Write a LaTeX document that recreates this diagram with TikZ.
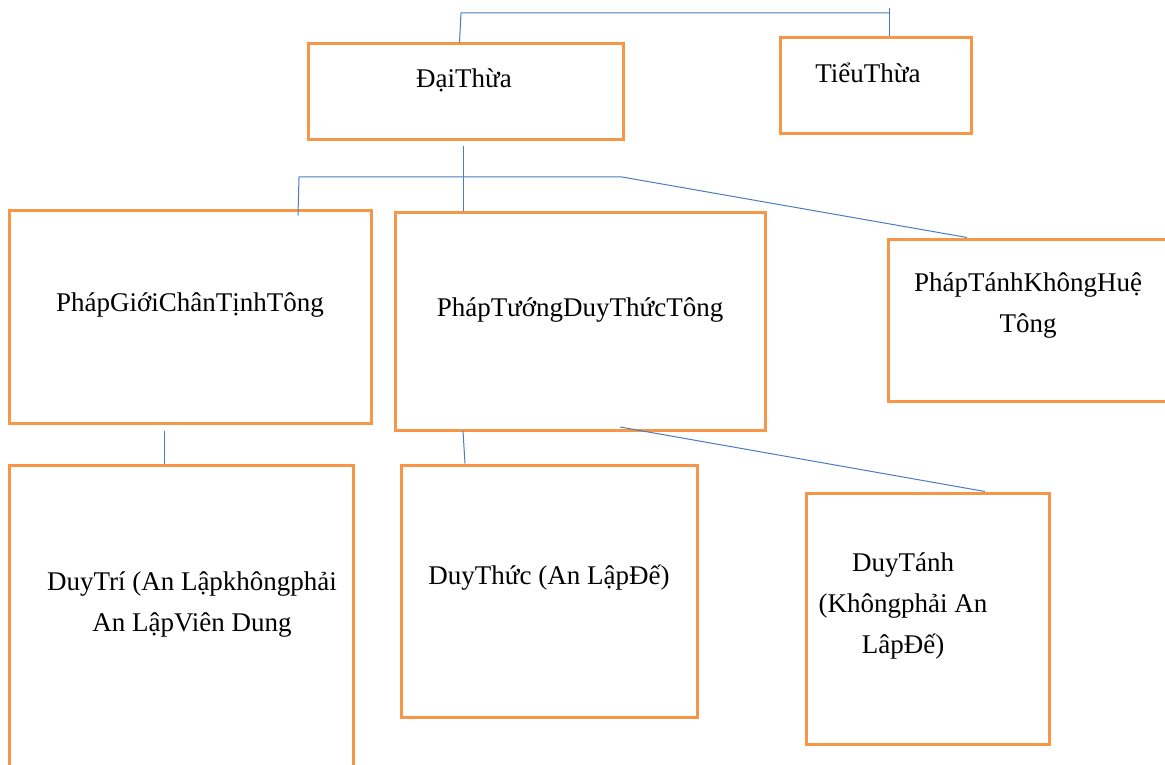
\documentclass[tikz,border=0pt]{standalone}
\usepackage{fontspec}
\setmainfont{Liberation Serif}
\usepackage{xcolor}
\usetikzlibrary{positioning,calc}
\definecolor{boxorange}{HTML}{F79646}
\definecolor{linkblue}{HTML}{4A7EBB}

\begin{document}
\begin{tikzpicture}[
  x=1pt, y=-1pt,
  font=\fontsize{27}{41}\selectfont,
  box/.style={draw=boxorange, line width=3pt, rectangle, inner sep=0pt},
  txt/.style={align=center, inner sep=0pt},
  link/.style={draw=linkblue, line width=1pt}
]
\clip (0,0) rectangle (1165,765);
\fill[white] (0,0) rectangle (1165,765);
% boxes
\node[box, minimum width=315, minimum height=96] (dai) at (465.5,92) {};
\node[box, minimum width=191, minimum height=96] (tieu) at (875.5,86) {};
\node[box, minimum width=362, minimum height=213] (gioi) at (190,316.5) {};
\node[box, minimum width=370, minimum height=218] (tuong) at (580,321) {};
\node[box, minimum width=282, minimum height=162] (tanh) at (1029,320) {};
\node[box, minimum width=344, minimum height=330] (tri) at (181,630) {};
\node[box, minimum width=296, minimum height=252] (thuc) at (549,591) {};
\node[box, minimum width=243, minimum height=251] (tanhd) at (927.5,618.5) {};
% texts
\node[txt] (daiT) at (464,80) {ĐạiThừa};
\node[txt] (tieuT) at (868,73) {TiểuThừa};
\node[txt] (gioiT) at (190,305) {PhápGiớiChânTịnhTông};
\node[txt] (tuongT) at (580,310) {PhápTướngDuyThứcTông};
\node[txt] (tanhT) at (1028,306) {PhápTánhKhôngHuệ\\Tông};
\node[txt] (triT) at (192,605) {DuyTrí (An Lậpkhôngphải\\An LậpViên Dung};
\node[txt] (thucT) at (549,578) {DuyThức (An LậpĐế)};
\node[txt] (tanhdT) at (903,606) {DuyTánh\\(Khôngphải An\\LâpĐế)};
% junctions
\coordinate (t1) at (461,13);
\coordinate (t2) at (889,13);
\coordinate (t2up) at (889,8);
\coordinate (m0) at (463,146);
\coordinate (m1) at (299,177);
\coordinate (m2) at (622,177);
\coordinate (b1) at (164,431);
\coordinate (b2) at (463,431);
\coordinate (b3) at (620,427);
% connectors
\draw[link] ([xshift=-6pt]dai.north) -- (t1) -- (t2);
\draw[link] (t2up) -- (tieu.north -| t2up);
\draw[link] (m0) -- (m0 |- tuong.north);
\draw[link] ([xshift=108pt,yshift=-7pt]gioi.north) -- (m1) -- (m2) -- ([xshift=-62pt]tanh.north);
\draw[link] (b1) -- ([xshift=-17pt]tri.north);
\draw[link] (b2) -- ([xshift=-84pt]thuc.north);
\draw[link] (b3) -- ([xshift=57.5pt]tanhd.north);
\end{tikzpicture}
\end{document}
